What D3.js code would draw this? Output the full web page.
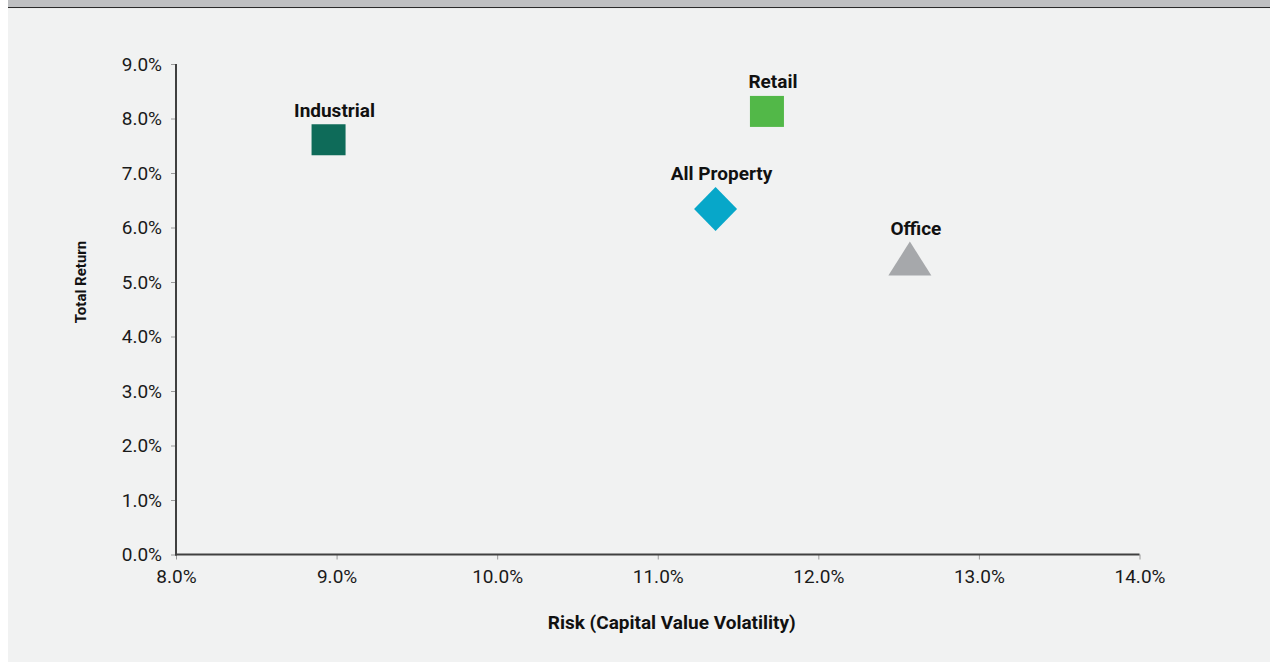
<!DOCTYPE html>
<html>
<head>
<meta charset="utf-8">
<script src="https://cdn.jsdelivr.net/npm/d3@7"></script>
<style>
  html, body { margin: 0; padding: 0; background: #ffffff; }
  svg { display: block; }
</style>
</head>
<body>
<svg id="chart" width="1272" height="662"></svg>
<script>
// ---- data ----
const categories = ["Industrial", "Retail", "All Property", "Office"];
const riskValues = [8.95, 11.68, 11.36, 12.57];      // x: Capital Value Volatility (%)
const returnValues = [7.61, 8.13, 6.34, 5.43];       // y: Total Return (%)
const markerShapes = ["square", "square", "diamond", "triangle"];
const markerColors = ["#0e6b59", "#52b848", "#07a7c9", "#a6a8ab"];
const xTicks = [8, 9, 10, 11, 12, 13, 14];
const yTicks = [0, 1, 2, 3, 4, 5, 6, 7, 8, 9];
const xTitle = "Risk (Capital Value Volatility)";
const yTitle = "Total Return";

// ---- layout ----
const W = 1272, H = 662;
const plot = { left: 176, right: 1139.5, top: 64, bottom: 554.5 };
const svg = d3.select("#chart");

// background panels
svg.append("rect").attr("x", 8).attr("y", 0).attr("width", 1262).attr("height", 7).attr("fill", "#bfc0c2");
svg.append("rect").attr("x", 8).attr("y", 7).attr("width", 1262).attr("height", 1.2).attr("fill", "#2b2b2b");
svg.append("rect").attr("x", 8).attr("y", 8.2).attr("width", 1262).attr("height", H - 8).attr("fill", "#f1f2f2");

const x = d3.scaleLinear().domain([8, 14]).range([plot.left, plot.right]);
const y = d3.scaleLinear().domain([0, 9]).range([plot.bottom, plot.top]);

const fmt = d => d.toFixed(1) + "%";
const tickFont = "Roboto, 'Liberation Sans', Arial, sans-serif";

// y axis
const yAxis = svg.append("g")
  .attr("transform", `translate(${plot.left},0)`)
  .call(d3.axisLeft(y).tickValues(yTicks).tickFormat(fmt).tickSize(5).tickPadding(9));
yAxis.select(".domain").remove();
yAxis.selectAll(".tick line").attr("stroke", "#9a9a9a").attr("stroke-width", 1);
yAxis.selectAll(".tick text").attr("font-family", tickFont).attr("font-size", 19).attr("fill", "#1a1a1a").attr("dy", "0.34em");

// x axis
const xAxis = svg.append("g")
  .attr("transform", `translate(0,${plot.bottom})`)
  .call(d3.axisBottom(x).tickValues(xTicks).tickFormat(fmt).tickSize(5).tickPadding(10));
xAxis.select(".domain").remove();
xAxis.selectAll(".tick line").attr("stroke", "#9a9a9a").attr("stroke-width", 1);
xAxis.selectAll(".tick text").attr("font-family", tickFont).attr("font-size", 19).attr("fill", "#1a1a1a");

// axis lines
svg.append("line").attr("x1", plot.left).attr("x2", plot.left).attr("y1", plot.top).attr("y2", plot.bottom + 1)
  .attr("stroke", "#404040").attr("stroke-width", 2);
svg.append("line").attr("x1", plot.left - 1).attr("x2", plot.right).attr("y1", plot.bottom).attr("y2", plot.bottom)
  .attr("stroke", "#404040").attr("stroke-width", 2);

// axis titles
svg.append("text")
  .attr("x", (plot.left + plot.right) / 2 + 14).attr("y", 629)
  .attr("text-anchor", "middle")
  .attr("font-family", tickFont).attr("font-weight", "bold").attr("font-size", 19)
  .attr("fill", "#111").text(xTitle);

svg.append("text")
  .attr("transform", `translate(86,282) rotate(-90)`)
  .attr("text-anchor", "middle")
  .attr("font-family", tickFont).attr("font-weight", "bold").attr("font-size", 15)
  .attr("fill", "#111").text(yTitle);

// markers
const points = categories.map((c, i) => ({
  name: c, x: riskValues[i], y: returnValues[i], shape: markerShapes[i], color: markerColors[i]
}));

const sq = 32, dia = 22, triW = 43, triH = 34;
function halfHeight(shape) {
  if (shape === "square") return sq / 2;
  if (shape === "diamond") return dia;
  return triH / 2;
}

const g = svg.append("g");
points.forEach(p => {
  const cx = x(p.x), cy = y(p.y);
  if (p.shape === "square") {
    g.append("rect").attr("x", cx - sq / 2 - 1).attr("y", cy - sq / 2 + 0.5).attr("width", sq + 2).attr("height", sq - 1)
      .attr("fill", p.color);
  } else if (p.shape === "diamond") {
    g.append("path")
      .attr("d", `M${cx},${cy - dia} L${cx + dia - 0.5},${cy} L${cx},${cy + dia} L${cx - dia + 0.5},${cy} Z`)
      .attr("fill", p.color);
  } else {
    g.append("path")
      .attr("d", `M${cx},${cy - triH / 2} L${cx + triW / 2},${cy + triH / 2} L${cx - triW / 2},${cy + triH / 2} Z`)
      .attr("fill", p.color);
  }
  g.append("text")
    .attr("x", cx + 6).attr("y", cy - halfHeight(p.shape) - 7)
    .attr("text-anchor", "middle")
    .attr("font-family", tickFont).attr("font-weight", "bold").attr("font-size", 19)
    .attr("fill", "#111").text(p.name);
});
</script>
</body>
</html>
